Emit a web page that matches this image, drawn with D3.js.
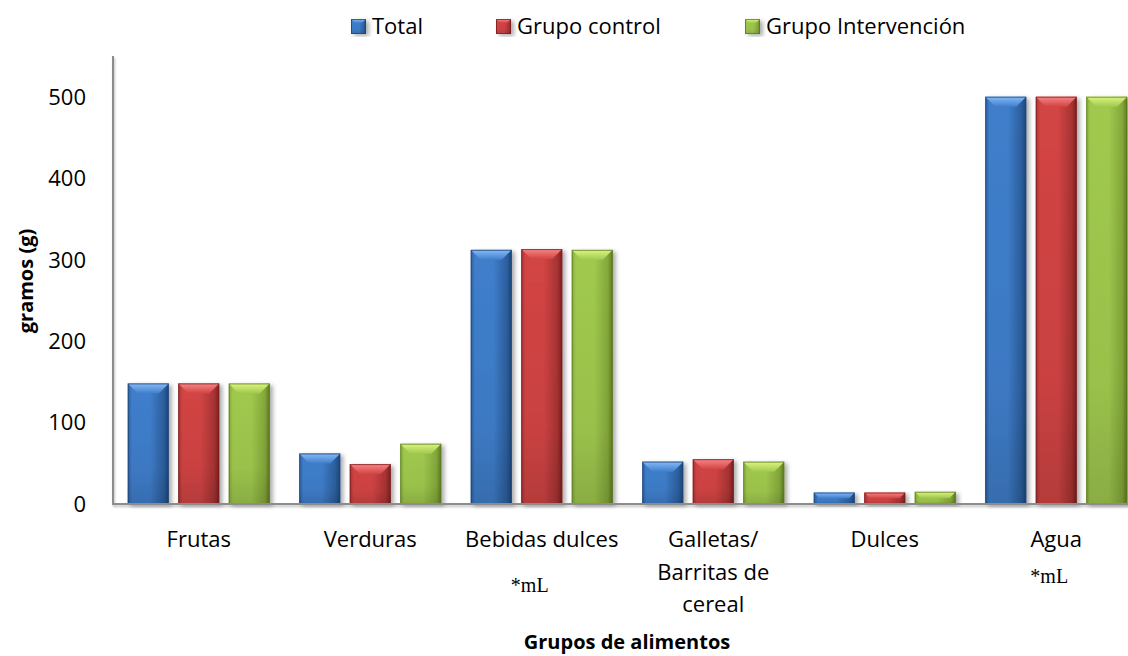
<!DOCTYPE html>
<html>
<head>
<meta charset="utf-8">
<script src="https://cdn.jsdelivr.net/npm/d3@7"></script>
<style>
  html, body { margin: 0; padding: 0; background: #fff; }
  svg { display: block; }
  text { font-family: "Open Sans", "Noto Sans", sans-serif; fill: #000; }
</style>
</head>
<body>
<svg id="chart" width="1128" height="656"></svg>
<script>
// Food groups and grams consumed per group
const categories = ["Frutas", "Verduras", "Bebidas dulces", "Galletas/ Barritas de cereal", "Dulces", "Agua"];
const categoryLines = [["Frutas"], ["Verduras"], ["Bebidas dulces"], ["Galletas/", "Barritas de", "cereal"], ["Dulces"], ["Agua"]];
const seriesNames = ["Total", "Grupo control", "Grupo Intervención"];
const totalValues = [148, 62, 312, 52, 14, 500];
const controlValues = [148, 49, 313, 55, 14, 500];
const interventionValues = [148, 74, 312, 52, 15, 500];
const yTicks = [0, 100, 200, 300, 400, 500];
const unitNotes = ["", "", "*mL", "", "", "*mL"];

const seriesValues = [totalValues, controlValues, interventionValues];

// bar palette: edge, main, light (bevel top)
const palette = [
  { edge: "#1d4478", dark: "#2c5f9e", main: "#3f7ecb", light: "#86bbf8" },
  { edge: "#7a1f1f", dark: "#a83333", main: "#d24444", light: "#f88585" },
  { edge: "#5b7a1f", dark: "#84a83a", main: "#a0c94e", light: "#dcf57f" }
];

const svg = d3.select("#chart");
const W = 1128, H = 656;

const margin = { left: 113, top: 56, bottom: 504 };
const bandStep = 171.5;

const x0 = d3.scaleBand()
  .domain(categories)
  .range([margin.left, margin.left + bandStep * categories.length])
  .padding(0);

const x1 = d3.scaleBand()
  .domain(seriesNames)
  .range([0, x0.bandwidth()])
  .paddingInner(0.188)
  .paddingOuter(0.292);

const y = d3.scaleLinear().domain([0, 550]).range([margin.bottom, margin.top]);

const defs = svg.append("defs");

// soft drop shadow used under bars and axes
const shadow = defs.append("filter").attr("id", "shadow")
  .attr("x", "-30%").attr("y", "-10%").attr("width", "170%").attr("height", "130%");
shadow.append("feDropShadow")
  .attr("dx", 3).attr("dy", 2).attr("stdDeviation", 2.2)
  .attr("flood-color", "#000").attr("flood-opacity", 0.32);

const axisShadow = defs.append("filter").attr("id", "axisShadow")
  .attr("x", "-5%").attr("y", "-200%").attr("width", "110%").attr("height", "500%");
axisShadow.append("feDropShadow")
  .attr("dx", 1).attr("dy", 2).attr("stdDeviation", 1.2)
  .attr("flood-color", "#000").attr("flood-opacity", 0.25);

palette.forEach((p, i) => {
  const gh = defs.append("linearGradient").attr("id", "gh" + i)
    .attr("x1", "0").attr("y1", "0").attr("x2", "1").attr("y2", "0");
  gh.append("stop").attr("offset", "0%").attr("stop-color", p.dark);
  gh.append("stop").attr("offset", "10%").attr("stop-color", p.main);
  gh.append("stop").attr("offset", "55%").attr("stop-color", p.main);
  gh.append("stop").attr("offset", "88%").attr("stop-color", p.dark);
  gh.append("stop").attr("offset", "100%").attr("stop-color", p.edge);

  const gt = defs.append("linearGradient").attr("id", "gt" + i)
    .attr("x1", "0").attr("y1", "0").attr("x2", "0").attr("y2", "1");
  gt.append("stop").attr("offset", "0%").attr("stop-color", p.light);
  gt.append("stop").attr("offset", "100%").attr("stop-color", p.main);
});

// vertical shade that darkens the lower part of each bar slightly
const gv = defs.append("linearGradient").attr("id", "gv")
  .attr("x1", "0").attr("y1", "0").attr("x2", "0").attr("y2", "1");
gv.append("stop").attr("offset", "0%").attr("stop-color", "#000").attr("stop-opacity", 0);
gv.append("stop").attr("offset", "70%").attr("stop-color", "#000").attr("stop-opacity", 0.04);
gv.append("stop").attr("offset", "100%").attr("stop-color", "#000").attr("stop-opacity", 0.14);

// draws one bevelled box into a selection
function bevelBox(g, x, yTop, w, h, si, bevel) {
  const b = Math.min(bevel, h / 2, w / 2);
  const box = g.append("g").attr("filter", "url(#shadow)");
  box.append("rect").attr("x", x).attr("y", yTop).attr("width", w).attr("height", h)
    .attr("fill", `url(#gh${si})`);
  box.append("rect").attr("x", x).attr("y", yTop).attr("width", w).attr("height", h)
    .attr("fill", "url(#gv)");
  box.append("path")
    .attr("d", `M${x},${yTop}L${x + w},${yTop}L${x + w - b},${yTop + b}L${x + b},${yTop + b}Z`)
    .attr("fill", `url(#gt${si})`);
  box.append("rect").attr("x", x + 0.5).attr("y", yTop + 0.5).attr("width", w - 1).attr("height", h - 1)
    .attr("fill", "none").attr("stroke", palette[si].edge).attr("stroke-width", 1).attr("stroke-opacity", 0.75);
}

// bars
const groups = svg.append("g").selectAll("g.cat")
  .data(categories)
  .join("g").attr("class", "cat")
  .attr("transform", d => `translate(${x0(d)},0)`);

groups.each(function (cat, ci) {
  const g = d3.select(this);
  seriesNames.forEach((s, si) => {
    const v = seriesValues[si][ci];
    const top = y(v);
    bevelBox(g, x1(s), top, x1.bandwidth(), y(0) - top, si, 10);
  });
});

// axes
const axes = svg.append("g").attr("filter", "url(#axisShadow)");
axes.append("line")
  .attr("x1", margin.left).attr("x2", margin.left)
  .attr("y1", y(550)).attr("y2", y(0))
  .attr("stroke", "#8c8c8c").attr("stroke-width", 2);
axes.append("line")
  .attr("x1", margin.left - 1).attr("x2", W)
  .attr("y1", y(0)).attr("y2", y(0))
  .attr("stroke", "#8c8c8c").attr("stroke-width", 2);

// y tick labels
svg.append("g").selectAll("text")
  .data(yTicks)
  .join("text")
  .attr("x", margin.left - 27)
  .attr("y", d => y(d))
  .attr("dy", "0.36em")
  .attr("text-anchor", "end")
  .attr("font-size", 22)
  .text(d => d);

// category labels
const catLabels = svg.append("g").selectAll("text")
  .data(categories)
  .join("text")
  .attr("text-anchor", "middle")
  .attr("font-size", 22)
  .attr("x", d => x0(d) + x0.bandwidth() / 2)
  .attr("y", 547);
catLabels.each(function (d, i) {
  d3.select(this).selectAll("tspan")
    .data(categoryLines[i])
    .join("tspan")
    .attr("x", x0(d) + x0.bandwidth() / 2)
    .attr("dy", (t, j) => j === 0 ? 0 : 32.5)
    .text(t => t);
});

// unit notes under categories measured in millilitres
svg.append("g").selectAll("text")
  .data(categories.map((c, i) => ({ c, note: unitNotes[i], i })).filter(d => d.note))
  .join("text")
  .attr("x", d => x0(d.c) + x0.bandwidth() / 2 + (d.i === 2 ? -12 : -7))
  .attr("y", d => d.i === 2 ? 592 : 583)
  .attr("text-anchor", "middle")
  .attr("font-size", 20)
  .style("font-family", "'Liberation Serif', 'DejaVu Serif', serif")
  .text(d => d.note);

// axis titles
svg.append("text")
  .attr("transform", `translate(33,${281}) rotate(-90)`)
  .attr("text-anchor", "middle")
  .attr("font-size", 20)
  .attr("font-weight", "bold")
  .text("gramos (g)");

svg.append("text")
  .attr("x", 627).attr("y", 649)
  .attr("text-anchor", "middle")
  .attr("font-size", 20)
  .attr("font-weight", "bold")
  .text("Grupos de alimentos");

// legend
const legendX = [351, 496, 745];
const legend = svg.append("g").selectAll("g")
  .data(seriesNames)
  .join("g")
  .attr("transform", (d, i) => `translate(${legendX[i]},19)`);
legend.each(function (d, i) {
  const g = d3.select(this);
  bevelBox(g, 0, 0, 15, 15, i, 4);
  g.append("text").attr("x", 21).attr("y", 15).attr("font-size", 22).text(d);
});
</script>
</body>
</html>
